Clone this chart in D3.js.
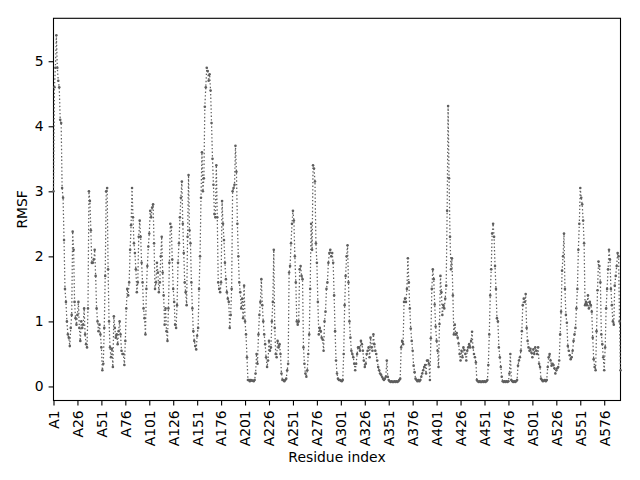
<!DOCTYPE html>
<html>
<head>
<meta charset="utf-8">
<script src="https://cdn.jsdelivr.net/npm/d3@7"></script>
<style>
  body { margin: 0; background: #fff; }
  svg { font-family: "DejaVu Sans", sans-serif; }
</style>
</head>
<body>
<svg id="rmsf-chart" width="640" height="480"></svg>
<script>
// RMSF per residue
var rmsf = [
  // A1 - A52
  3.0, 4.6, 4.9, 5.4, 4.9, 4.7, 4.6, 4.1, 4.05, 3.05,
  2.9, 2.25, 1.5, 1.3, 1.0, 0.8, 0.75, 0.62, 0.9, 1.1,
  2.38, 2.1, 1.3, 1.05, 0.95, 1.1, 1.3, 0.9, 0.7, 1.0,
  0.9, 0.95, 1.2, 0.8, 0.65, 0.6, 1.2, 3.0, 2.85, 2.4,
  1.9, 1.9, 1.95, 2.1, 1.7, 1.2, 1.0, 0.85, 0.95, 0.8,
  0.6, 0.25,
  // A53 - A108
  0.35, 0.9, 1.7, 3.0, 3.05, 1.8, 1.0, 0.6, 0.45, 0.58,
  0.3, 1.08, 0.9, 0.75, 0.8, 0.65, 0.85, 1.0, 0.8, 0.55, 0.5,
  0.5, 0.33, 0.7, 1.2, 1.5, 1.4, 1.6, 2.1, 2.48, 3.05,
  2.6, 2.2, 2.05, 1.8, 1.45, 1.6, 2.3, 2.55, 2.3, 1.9,
  1.6, 1.2, 1.05, 0.8, 1.5, 1.85, 2.15, 2.35, 2.7, 2.6,
  2.75, 2.8, 2.2, 1.5, 1.6,
  // A109 - A158
  1.9, 1.75, 1.45, 1.6, 2.0, 2.3, 1.75, 1.4, 0.95, 1.2,
  0.85, 0.7, 1.2, 1.9, 2.5, 2.45, 1.95, 1.5, 1.3, 0.95,
  0.9, 1.25, 1.9, 2.2, 2.6, 2.9, 3.15, 2.5, 2.05, 1.6,
  1.45, 1.25, 2.3, 3.25, 2.4, 2.2, 1.6, 1.2, 0.85, 0.7, 0.62,
  0.57, 0.78, 0.9, 1.5, 2.0, 2.9, 3.6, 3.0, 3.2,
  // A159 - A219
  4.3, 4.6, 4.9, 4.85, 4.7, 4.8, 4.55, 4.05, 3.5, 3.1,
  2.65, 2.6, 3.4, 2.6, 1.6, 1.5, 1.45, 1.6, 2.85, 2.5,
  2.25, 1.9, 1.65, 1.45, 1.35, 1.3, 0.9, 1.1, 1.5, 3.0,
  3.05, 3.1, 3.7, 3.3, 2.5, 2.0, 1.6, 1.45, 1.2, 1.35,
  1.05, 1.55, 1.0, 0.8, 0.45, 0.1, 0.1, 0.08, 0.1, 0.09, 0.09,
  0.08, 0.1, 0.2, 0.5, 0.35, 0.8, 1.1, 1.3, 1.65, 1.25,
  // A220 - A291
  1.0, 0.8, 0.65, 0.45, 0.3, 0.4, 0.7, 0.55, 0.6, 1.0,
  1.3, 2.1, 0.9, 0.5, 0.45, 0.7, 0.6, 0.65, 0.5, 0.2,
  0.1, 0.1, 0.08, 0.1, 0.12, 0.25, 0.35, 1.75, 1.85, 2.2,
  2.5, 2.7, 2.55, 2.0, 1.6, 1.0, 0.95, 1.0, 1.8, 1.85,
  1.7, 1.65, 0.6, 0.35, 0.2, 0.15, 0.25, 0.5, 0.8, 1.5,
  2.5, 2.1, 3.4, 3.35, 3.15, 2.2, 1.9, 1.3, 0.8, 0.9,
  0.85, 0.75, 0.72, 0.55, 1.0, 1.15, 1.5, 1.6, 1.9, 2.05,
  2.1, 2.0,
  // A292 - A363
  2.05, 1.9, 1.4, 0.85, 0.4, 0.2, 0.12, 0.1, 0.1, 0.09, 0.08,
  0.1, 0.5, 1.25, 1.7, 2.0, 2.17, 1.6, 1.0, 0.75, 0.55,
  0.5, 0.45, 0.35, 0.25, 0.35, 0.5, 0.6, 0.6, 0.55, 0.7,
  0.65, 0.55, 0.4, 0.3, 0.35, 0.5, 0.55, 0.6, 0.45, 0.75,
  0.6, 0.55, 0.8, 0.65, 0.55, 0.5, 0.4, 0.3, 0.25, 0.2,
  0.18, 0.15, 0.12, 0.1, 0.12, 0.15, 0.4, 0.15, 0.1, 0.08,
  0.07, 0.08, 0.07, 0.07, 0.08, 0.07, 0.08, 0.07, 0.08, 0.1, 0.12,
  // A364 - A432
  0.6, 0.7, 0.65, 1.3, 1.35, 1.3, 1.5, 1.97, 1.6, 1.2,
  0.89, 0.7, 0.55, 0.32, 0.22, 0.12, 0.1, 0.08, 0.1, 0.08,
  0.1, 0.15, 0.2, 0.25, 0.3, 0.33, 0.2, 0.4, 0.4, 0.35,
  0.1, 0.74, 1.5, 1.8, 1.65, 1.26, 0.92, 0.7, 0.55, 0.3,
  0.96, 1.7, 1.45, 1.1, 1.25, 1.2, 1.35, 1.55, 2.7, 4.31,
  3.2, 2.3, 1.8, 1.97, 1.4, 0.8, 0.95, 0.8, 0.82, 0.75,
  0.66, 0.5, 0.4, 0.55, 0.45, 0.6, 0.56, 0.5, 0.4,
  // A433 - A503
  0.55, 0.6, 0.65, 0.6, 0.7, 0.84, 0.6, 0.5, 0.45, 0.37,
  0.1, 0.08, 0.07, 0.08, 0.07, 0.07, 0.08, 0.07, 0.08, 0.07, 0.08,
  0.1, 0.33, 0.8, 1.4, 1.8, 2.35, 2.5, 2.3, 1.85, 1.5,
  1.05, 1.0, 0.6, 0.45, 0.3, 0.15, 0.08, 0.07, 0.08, 0.07,
  0.08, 0.07, 0.08, 0.2, 0.5, 0.1, 0.08, 0.07, 0.08, 0.07,
  0.08, 0.1, 0.32, 0.4, 0.45, 0.55, 0.85, 1.25, 1.35, 1.3,
  1.42, 0.9, 0.7, 0.6, 0.55, 0.58, 0.52, 0.45, 0.57, 0.5,
  // A504 - A593
  0.6, 0.55, 0.5, 0.6, 0.35, 0.3, 0.12, 0.1, 0.08, 0.09, 0.1,
  0.08, 0.1, 0.3, 0.45, 0.5, 0.4, 0.32, 0.35, 0.33, 0.28,
  0.2, 0.25, 0.28, 0.3, 0.4, 0.8, 1.15, 1.78, 2.0, 2.35,
  1.5, 1.1, 0.98, 0.62, 0.55, 0.48, 0.42, 0.45, 0.55, 0.7,
  0.8, 0.9, 1.2, 1.5, 2.1, 2.5, 3.05, 2.9, 2.8, 2.55,
  2.2, 1.25, 1.3, 1.25, 1.4, 1.2, 1.3, 1.25, 1.15, 0.75,
  0.42, 0.3, 0.25, 0.85, 1.48, 1.92, 1.85, 1.6, 0.8, 0.65,
  0.45, 0.25, 0.6, 1.2, 1.5, 1.8, 2.1, 1.95, 1.5, 1.25,
  1.0, 0.95, 1.55, 1.7, 1.85, 2.05, 2.0, 1.0, 0.25
];

// residue names, one per value
var residues = rmsf.map(function(d, i) { return 'A' + (i + 1); });

// every 25th residue gets a tick
var xTickIndex = [0, 25, 50, 75, 100, 125, 150, 175, 200, 225, 250, 275,
                  300, 325, 350, 375, 400, 425, 450, 475, 500, 525, 550, 575];
var yTicks = [0, 1, 2, 3, 4, 5];

var svg = d3.select('#rmsf-chart');

var margin = { top: 18.3, bottom: 79.5, left: 53.5, right: 19.5 };
var width = 640, height = 480;

var xScale = d3.scaleLinear()
  .domain([0, rmsf.length - 1])
  .range([margin.left, width - margin.right]);

var yScale = d3.scaleLinear()
  .domain([-0.216, 5.66])
  .range([height - margin.bottom, margin.top]);

// Axes
var xAxis = svg.append('g')
  .attr('transform', 'translate(0,' + (height - margin.bottom) + ')')
  .call(d3.axisBottom(xScale)
    .tickValues(xTickIndex)
    .tickFormat(function(i) { return residues[i]; })
    .tickSize(4.9)
    .tickPadding(4.9)
    .tickSizeOuter(0));

xAxis.selectAll('text')
  .attr('transform', 'rotate(-90)')
  .attr('x', -9.8)
  .attr('y', 0)
  .attr('dy', '0.35em')
  .style('text-anchor', 'end');

var yAxis = svg.append('g')
  .attr('transform', 'translate(' + margin.left + ',0)')
  .call(d3.axisLeft(yScale)
    .tickValues(yTicks)
    .tickFormat(d3.format('d'))
    .tickSize(4.9)
    .tickPadding(4.9)
    .tickSizeOuter(0));

svg.selectAll('.domain').remove();
svg.selectAll('.tick line').attr('stroke', '#000').attr('stroke-width', 1.1);
svg.selectAll('.tick text').attr('fill', '#000').style('font-size', '13.9px')
  .style('font-family', '"DejaVu Sans", sans-serif');

// Frame
svg.append('rect')
  .attr('x', margin.left)
  .attr('y', margin.top)
  .attr('width', width - margin.right - margin.left)
  .attr('height', height - margin.bottom - margin.top)
  .attr('fill', 'none')
  .attr('stroke', '#000')
  .attr('stroke-width', 1.1);

// Line and markers
var line = d3.line()
  .x(function(d, i) { return xScale(i); })
  .y(function(d) { return yScale(d); });

svg.append('path')
  .datum(rmsf)
  .attr('d', line)
  .attr('fill', 'none')
  .attr('stroke', '#5e5e5e')
  .attr('stroke-width', 1.25)
  .attr('stroke-dasharray', '1.4,2.2');

svg.selectAll('.pt')
  .data(rmsf)
  .enter()
  .append('circle')
  .attr('class', 'pt')
  .attr('cx', function(d, i) { return xScale(i); })
  .attr('cy', function(d) { return yScale(d); })
  .attr('r', 1.3)
  .attr('fill', '#5e5e5e');

// Labels
svg.append('text')
  .attr('x', (margin.left + width - margin.right) / 2)
  .attr('y', 462)
  .attr('text-anchor', 'middle')
  .style('font-size', '13.9px')
  .text('Residue index');

svg.append('text')
  .attr('transform', 'translate(22,' + ((margin.top + height - margin.bottom) / 2) + ') rotate(-90)')
  .attr('text-anchor', 'middle')
  .attr('dy', '0.35em')
  .style('font-size', '13.9px')
  .text('RMSF');
</script>
</body>
</html>
